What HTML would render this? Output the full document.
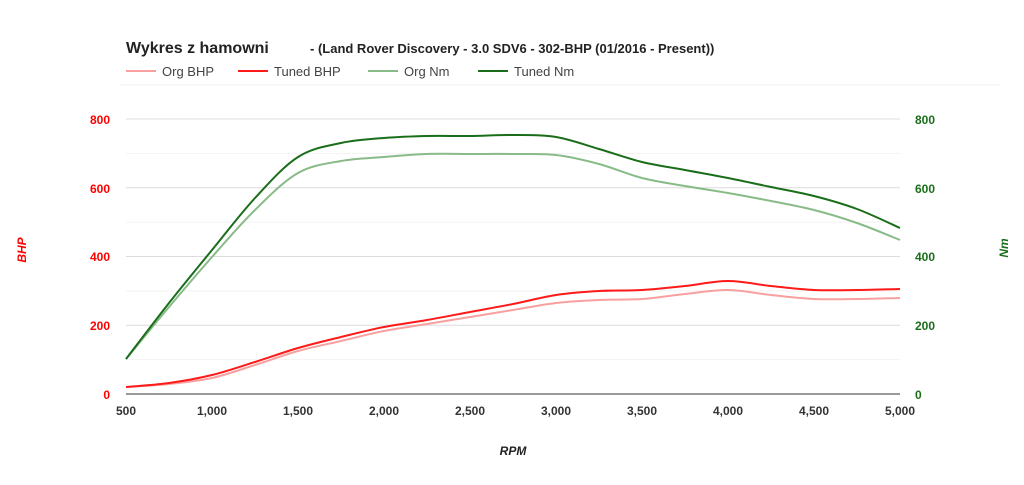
<!DOCTYPE html>
<html><head><meta charset="utf-8"><style>
body{margin:0;background:#fff;}
svg{display:block;font-family:"Liberation Sans",Arial,sans-serif;}
</style></head><body>
<svg id="s" width="1024" height="485" xmlns="http://www.w3.org/2000/svg">
<rect width="1024" height="485" fill="#fff"/>
<text x="126" y="53" font-size="16" font-weight="bold" fill="#222">Wykres z hamowni</text>
<text x="310" y="53" font-size="13" font-weight="bold" fill="#222">- (Land Rover Discovery - 3.0 SDV6 - 302-BHP (01/2016 - Present))</text>
<g font-size="13" fill="#444">
<line x1="126" y1="71" x2="156" y2="71" stroke="#f8a0a0" stroke-width="2"/><text x="162" y="76">Org BHP</text>
<line x1="238" y1="71" x2="268" y2="71" stroke="#ff1a1a" stroke-width="2"/><text x="274" y="76">Tuned BHP</text>
<line x1="368" y1="71" x2="398" y2="71" stroke="#88bb88" stroke-width="2"/><text x="404" y="76">Org Nm</text>
<line x1="478" y1="71" x2="508" y2="71" stroke="#1a6e1a" stroke-width="2"/><text x="514" y="76">Tuned Nm</text>
</g>
<line x1="120" y1="85" x2="1000" y2="85" stroke="#f2f2f2"/>
<g id="grid"></g>
<line x1="126" y1="394" x2="900" y2="394" stroke="#333" stroke-width="1"/>
<g font-size="12" font-weight="bold" fill="#ff0000" text-anchor="end">
<text x="110" y="124">800</text><text x="110" y="193">600</text><text x="110" y="261">400</text><text x="110" y="330">200</text><text x="110" y="399">0</text>
</g>
<g font-size="12" font-weight="bold" fill="#1a6e1a">
<text x="915" y="124">800</text><text x="915" y="193">600</text><text x="915" y="261">400</text><text x="915" y="330">200</text><text x="915" y="399">0</text>
</g>
<g font-size="12" font-weight="bold" fill="#333" text-anchor="middle">
<text x="126" y="415">500</text><text x="212" y="415">1,000</text><text x="298" y="415">1,500</text><text x="384" y="415">2,000</text><text x="470" y="415">2,500</text><text x="556" y="415">3,000</text><text x="642" y="415">3,500</text><text x="728" y="415">4,000</text><text x="814" y="415">4,500</text><text x="900" y="415">5,000</text>
</g>
<text x="513" y="455" font-size="12" font-weight="bold" font-style="italic" fill="#222" text-anchor="middle">RPM</text>
<text transform="translate(26,250) rotate(-90)" font-size="12" font-weight="bold" font-style="italic" fill="#ff0000" text-anchor="middle">BHP</text>
<text transform="translate(1008,248) rotate(-90)" font-size="12" font-weight="bold" font-style="italic" fill="#1a6e1a" text-anchor="middle">Nm</text>
<g id="lines" fill="none" stroke-width="2"></g>
</svg>
<script>
var g=document.getElementById('grid'),h='';
for(var i=1;i<=8;i++){var y=394-i*34.375;h+='<line x1="126" x2="900" y1="'+y+'" y2="'+y+'" stroke="'+(i%2?'#f2f2f2':'#dcdcdc')+'"/>';}
g.innerHTML=h;
function path(p){var d='M'+p[0][0]+','+p[0][1];for(var i=0;i<p.length-1;i++){var p0=p[i-1]||p[i],p1=p[i],p2=p[i+1],p3=p[i+2]||p2;
d+=' C'+(p1[0]+(p2[0]-p0[0])/6)+','+(p1[1]+(p2[1]-p0[1])/6)+' '+(p2[0]-(p3[0]-p1[0])/6)+','+(p2[1]-(p3[1]-p1[1])/6)+' '+p2[0]+','+p2[1];}return d;}
var S=[
['#f8a0a0',[[126,387],[169,384],[212,378],[255,365],[298,351],[341,341],[384,331],[427,324],[470,317],[513,310],[556,303],[599,300],[642,299],[685,294],[728,290],[771,295],[814,299],[857,299],[900,298]]],
['#ff1a1a',[[126,387],[169,383],[212,375],[255,362],[298,348],[341,337],[384,327],[427,320],[470,312],[513,304],[556,295],[599,291],[642,290],[685,286],[728,281],[771,286],[814,290],[857,290],[900,289]]],
['#88bb88',[[126,359],[169,307],[212,257],[255,210],[298,173],[341,161],[384,157],[427,154],[470,154],[513,154],[556,155],[599,164],[642,178],[685,186],[728,193],[771,201],[814,210],[857,223],[900,240]]],
['#1a6e1a',[[126,359],[169,303],[212,250],[255,198],[298,157],[341,143],[384,138],[427,136],[470,136],[513,135],[556,137],[599,149],[642,162],[685,170],[728,178],[771,187],[814,196],[857,209],[900,228]]]];
var L='';S.forEach(function(s){L+='<path d="'+path(s[1])+'" stroke="'+s[0]+'"/>';});
document.getElementById('lines').innerHTML=L;
</script>
</body></html>
